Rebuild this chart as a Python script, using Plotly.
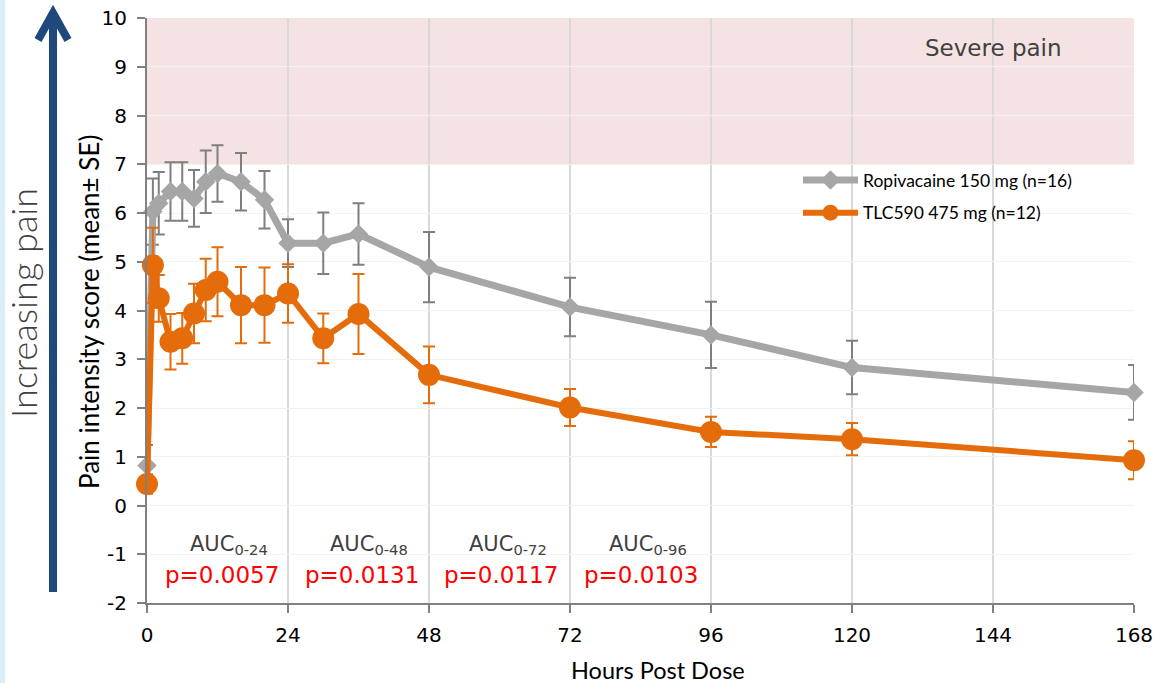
import plotly.graph_objects as go

hours = [0, 1, 2, 4, 6, 8, 10, 12, 16, 20, 24, 30, 36, 48, 72, 96, 120, 168]
ropi_mean = [0.82, 6.03, 6.20, 6.44, 6.44, 6.30, 6.64, 6.81, 6.64, 6.27, 5.38, 5.38, 5.57, 4.89, 4.07, 3.50, 2.83, 2.32]
ropi_se = [0.42, 0.68, 0.64, 0.60, 0.60, 0.58, 0.64, 0.58, 0.59, 0.59, 0.49, 0.63, 0.63, 0.72, 0.60, 0.68, 0.55, 0.56]
tlc_mean = [0.44, 4.93, 4.25, 3.36, 3.43, 3.94, 4.42, 4.59, 4.11, 4.11, 4.35, 3.43, 3.93, 2.68, 2.01, 1.51, 1.36, 0.93]
tlc_se = [0.20, 0.77, 0.48, 0.57, 0.52, 0.61, 0.64, 0.71, 0.78, 0.77, 0.60, 0.51, 0.82, 0.58, 0.38, 0.31, 0.33, 0.39]

x_ticks = [0, 24, 48, 72, 96, 120, 144, 168]
y_ticks = list(range(-2, 11))
y_ticktext = [str(v) for v in y_ticks]

auc_labels = ["AUC<sub>0-24</sub>", "AUC<sub>0-48</sub>", "AUC<sub>0-72</sub>", "AUC<sub>0-96</sub>"]
auc_x = [14.0, 37.8, 61.5, 85.3]
p_labels = ["p=0.0057", "p=0.0131", "p=0.0117", "p=0.0103"]
p_x = [12.8, 36.6, 60.3, 84.1]

GRAY = "#a6a6a6"
ORANGE = "#e46c0a"

fig = go.Figure()
fig.add_trace(go.Scatter(
    x=hours, y=ropi_mean, name="Ropivacaine 150 mg (n=16)", mode="lines+markers",
    line=dict(color=GRAY, width=7),
    marker=dict(symbol="diamond", size=15, color=GRAY),
    error_y=dict(type="data", array=ropi_se, color="#7f7f7f", thickness=2, width=6),
    cliponaxis=False, legendgroup="a"))
fig.add_trace(go.Scatter(
    x=hours, y=tlc_mean, name="TLC590 475 mg (n=12)", mode="lines+markers",
    line=dict(color=ORANGE, width=6),
    marker=dict(symbol="circle", size=22, color=ORANGE),
    error_y=dict(type="data", array=tlc_se, color=ORANGE, thickness=2, width=6),
    cliponaxis=False, legendgroup="b"))

L, R, T, B = 147, 19, 18, 80
W, H = 1153, 683
pw, ph = W - L - R, H - T - B

def px(xp):
    return (xp - L) / pw

def py(yp):
    return (H - B - yp) / ph

shapes = [
    dict(type="rect", xref="x", yref="y", x0=0, x1=168, y0=7, y1=10.08,
         fillcolor="#f5e3e3", line=dict(width=0), layer="below"),
    dict(type="rect", xref="paper", yref="paper", x0=px(0), x1=px(5), y0=py(H), y1=py(0),
         fillcolor="#daeef3", line=dict(width=0), layer="below"),
    dict(type="line", xref="paper", yref="paper", x0=px(53), x1=px(53), y0=py(592), y1=py(14),
         line=dict(color="#1f497d", width=8)),
    dict(type="path", xref="paper", yref="paper",
         path=f"M {px(38)},{py(40)} L {px(53)},{py(13)} L {px(68)},{py(40)}",
         line=dict(color="#1f497d", width=8)),
]

annotations = []
for t, xv in zip(auc_labels, auc_x):
    annotations.append(dict(x=xv, y=-0.8, xref="x", yref="y", text=t, showarrow=False,
                            xanchor="center", yanchor="middle",
                            font=dict(family="DejaVu Sans", size=21, color="#404040")))
for t, xv in zip(p_labels, p_x):
    annotations.append(dict(x=xv, y=-1.42, xref="x", yref="y", text=t, showarrow=False,
                            xanchor="center", yanchor="middle",
                            font=dict(family="DejaVu Sans", size=23, color="#ff0000")))
annotations.append(dict(x=144, y=9.38, xref="x", yref="y", text="Severe pain", showarrow=False,
                        xanchor="center", yanchor="middle",
                        font=dict(family="DejaVu Sans", size=23, color="#404040")))
annotations.append(dict(x=px(89), y=py(312), xref="paper", yref="paper",
                        text="Pain intensity score (mean± SE)", textangle=-90, showarrow=False,
                        xanchor="center", yanchor="middle",
                        font=dict(family="Lato", size=26, color="#000000")))
annotations.append(dict(x=px(23), y=py(303), xref="paper", yref="paper",
                        text="Increasing pain", textangle=-90, showarrow=False,
                        xanchor="center", yanchor="middle",
                        font=dict(family="Lato", size=36, color="#404040", weight=300)))
annotations.append(dict(x=px(658), y=py(670), xref="paper", yref="paper",
                        text="Hours Post Dose", showarrow=False,
                        xanchor="center", yanchor="middle",
                        font=dict(family="Lato", size=23.5, color="#000000")))

fig.update_layout(
    width=W, height=H,
    margin=dict(l=L, r=R, t=T, b=B, autoexpand=False),
    paper_bgcolor="white", plot_bgcolor="white",
    showlegend=True,
    legend=dict(x=px(798), y=py(162), xanchor="left", yanchor="top",
                bgcolor="rgba(0,0,0,0)", font=dict(family="Lato", size=17.5, color="#000"),
                itemwidth=55, tracegroupgap=7),
    shapes=shapes, annotations=annotations,
)
fig.update_xaxes(range=[0, 168], tickvals=x_ticks, showgrid=True, gridcolor="#d9d9d9", gridwidth=2,
                 showline=True, linecolor="#808080", linewidth=2, ticks="outside", ticklen=8,
                 tickcolor="#808080", tickwidth=2, zeroline=False, automargin=False,
                 ticklabeloverflow="allow", ticklabelstandoff=5,
                 tickfont=dict(family="DejaVu Sans", size=20, color="#000"))
fig.update_yaxes(range=[-2, 10], tickvals=y_ticks, ticktext=y_ticktext, showgrid=True,
                 gridcolor="#f2f2f2", gridwidth=1,
                 showline=True, linecolor="#808080", linewidth=2, ticks="outside", ticklen=8,
                 tickcolor="#808080", tickwidth=2, zeroline=False, automargin=False,
                 ticklabelstandoff=6,
                 tickfont=dict(family="DejaVu Sans", size=20, color="#000"))

fig.write_html("out.html")
